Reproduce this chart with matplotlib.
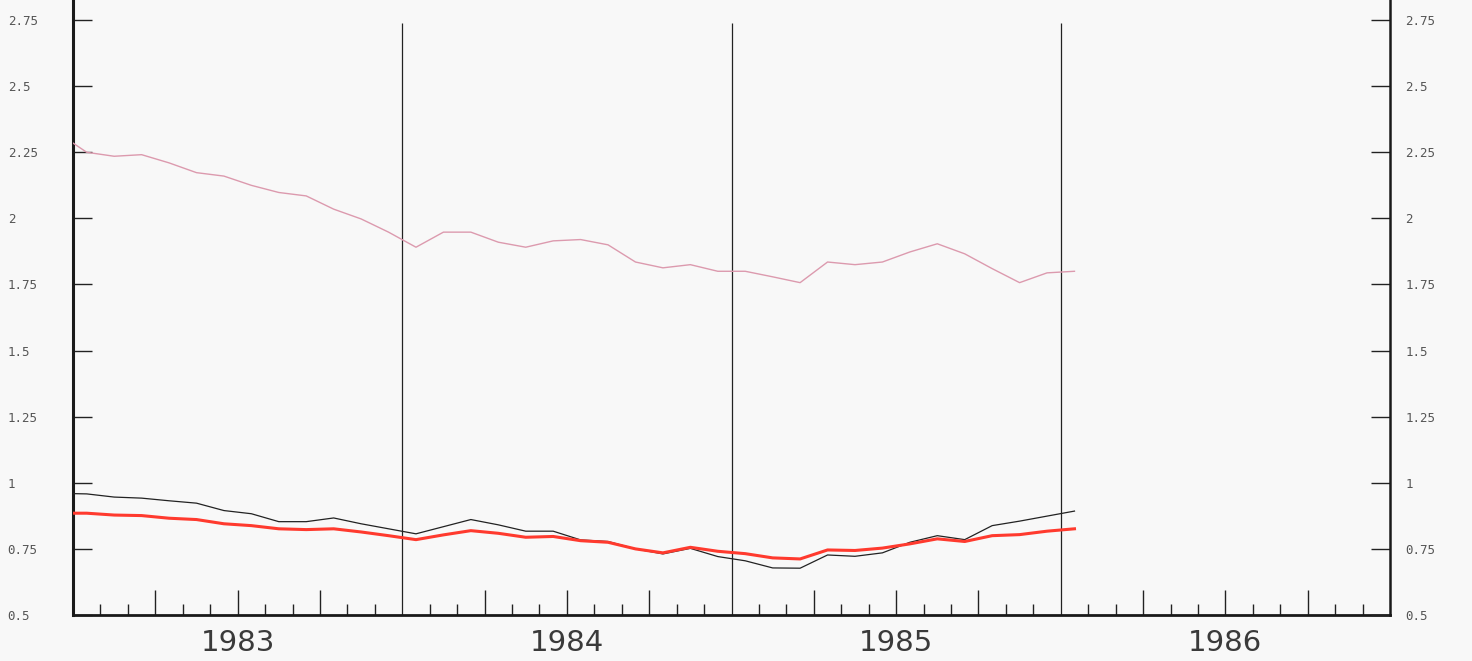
import numpy as np
import pandas as pd
import matplotlib
matplotlib.use("Agg")
import matplotlib.pyplot as plt
from matplotlib.ticker import FixedLocator, FuncFormatter


# monthly observations, Dec 1982 .. Jan 1986 (first one falls left of the axis)
months = pd.date_range("1982-12-01", "1986-01-01", freq="MS")

upper_series = [2.32, 2.25, 2.235, 2.241, 2.21, 2.173, 2.16, 2.125, 2.098, 2.085,
                2.035, 1.998, 1.948, 1.891, 1.948, 1.948, 1.91, 1.891, 1.915, 1.92,
                1.90, 1.835, 1.813, 1.825, 1.80, 1.80, 1.779, 1.757, 1.835, 1.825,
                1.835, 1.873, 1.904, 1.866, 1.81, 1.757, 1.794, 1.80]

black_series = [0.96, 0.958, 0.946, 0.942, 0.932, 0.923, 0.895, 0.883, 0.853, 0.853,
                0.867, 0.845, 0.826, 0.807, 0.834, 0.861, 0.841, 0.817, 0.817, 0.784,
                0.778, 0.750, 0.731, 0.752, 0.721, 0.705, 0.678, 0.677, 0.727, 0.722,
                0.735, 0.775, 0.800, 0.785, 0.838, 0.855, 0.874, 0.893]

red_series = [0.885, 0.885, 0.878, 0.876, 0.866, 0.861, 0.845, 0.838, 0.826, 0.823,
              0.826, 0.814, 0.800, 0.785, 0.803, 0.819, 0.809, 0.794, 0.797, 0.781,
              0.775, 0.750, 0.735, 0.756, 0.741, 0.732, 0.716, 0.712, 0.746, 0.744,
              0.753, 0.769, 0.788, 0.778, 0.800, 0.804, 0.817, 0.826]

years = [1983, 1984, 1985, 1986]
y_ticks = [0.5, 0.75, 1.0, 1.25, 1.5, 1.75, 2.0, 2.25, 2.5, 2.75]
year_breaks = [1984, 1985, 1986]

BG = "#f8f8f8"
TICK_FONT = dict(family="DejaVu Sans Mono", size=9, color="#555555")


def to_decimal_year(dates):
    # mid-month position
    return dates.year + (dates.month - 0.5) / 12.0


def main():
    x = to_decimal_year(months)

    fig = plt.figure(figsize=(14.72, 6.61), dpi=100, facecolor=BG)
    ax = fig.add_axes([0.0496, 0.0696, 0.8947, 0.9304])
    ax.set_facecolor(BG)

    ax.set_xlim(years[0], years[-1] + 1)
    ax.set_ylim(0.5, 2.826)

    ax.plot(x, upper_series, color="#dc9aae", lw=1.0, zorder=3)
    ax.plot(x, black_series, color="#222222", lw=0.9, zorder=3)
    ax.plot(x, red_series, color="#ff3a2e", lw=2.2, zorder=4)

    # year separators
    ax.vlines(year_breaks, 0.5, 2.74, color="#222222", lw=0.9, zorder=2)

    # x axis: quarterly tall ticks, monthly short ticks, year name under mid-year tick
    quarters = [y + q / 4 for y in years for q in (1, 2, 3)]
    monthly = [y + m / 12 for y in years for m in range(1, 12) if m % 3]
    ax.xaxis.set_major_locator(FixedLocator(quarters))
    ax.xaxis.set_minor_locator(FixedLocator(monthly))
    ax.set_xticklabels([str(int(q)) if abs(q % 1 - 0.5) < 1e-6 else "" for q in quarters],
                       family="DejaVu Sans", size=21, color="#3a3a3a")
    ax.tick_params(axis="x", which="major", direction="in", length=18, width=1.0,
                   color="#222222", pad=10)
    ax.tick_params(axis="x", which="minor", direction="in", length=8, width=1.0,
                   color="#222222")

    fmt = FuncFormatter(lambda v, p: f"{v:g}")

    # left axis
    ax.yaxis.set_major_locator(FixedLocator(y_ticks))
    ax.yaxis.set_major_formatter(fmt)
    ax.tick_params(axis="y", direction="in", length=14, width=1.0, color="#222222",
                   pad=47)
    for lab in ax.get_yticklabels():
        lab.set_horizontalalignment("left")
        lab.set(**TICK_FONT)

    # right axis, same scale
    ax2 = ax.twinx()
    ax2.set_ylim(ax.get_ylim())
    ax2.yaxis.set_major_locator(FixedLocator(y_ticks))
    ax2.yaxis.set_major_formatter(fmt)
    ax2.tick_params(axis="y", direction="in", length=14, width=1.0, color="#222222",
                    pad=11)
    for lab in ax2.get_yticklabels():
        lab.set(**TICK_FONT)

    for a in (ax, ax2):
        a.spines["top"].set_visible(False)
    ax.spines["right"].set_visible(False)
    ax2.spines["left"].set_visible(False)
    ax2.spines["bottom"].set_visible(False)
    ax.spines["left"].set_linewidth(2.2)
    ax.spines["bottom"].set_linewidth(2.0)
    ax2.spines["right"].set_linewidth(1.8)
    for s in ("left", "bottom"):
        ax.spines[s].set_color("#1a1a1a")
    ax2.spines["right"].set_color("#1a1a1a")

    fig.savefig("out.png", dpi=100, facecolor=BG)


if __name__ == "__main__":
    main()
